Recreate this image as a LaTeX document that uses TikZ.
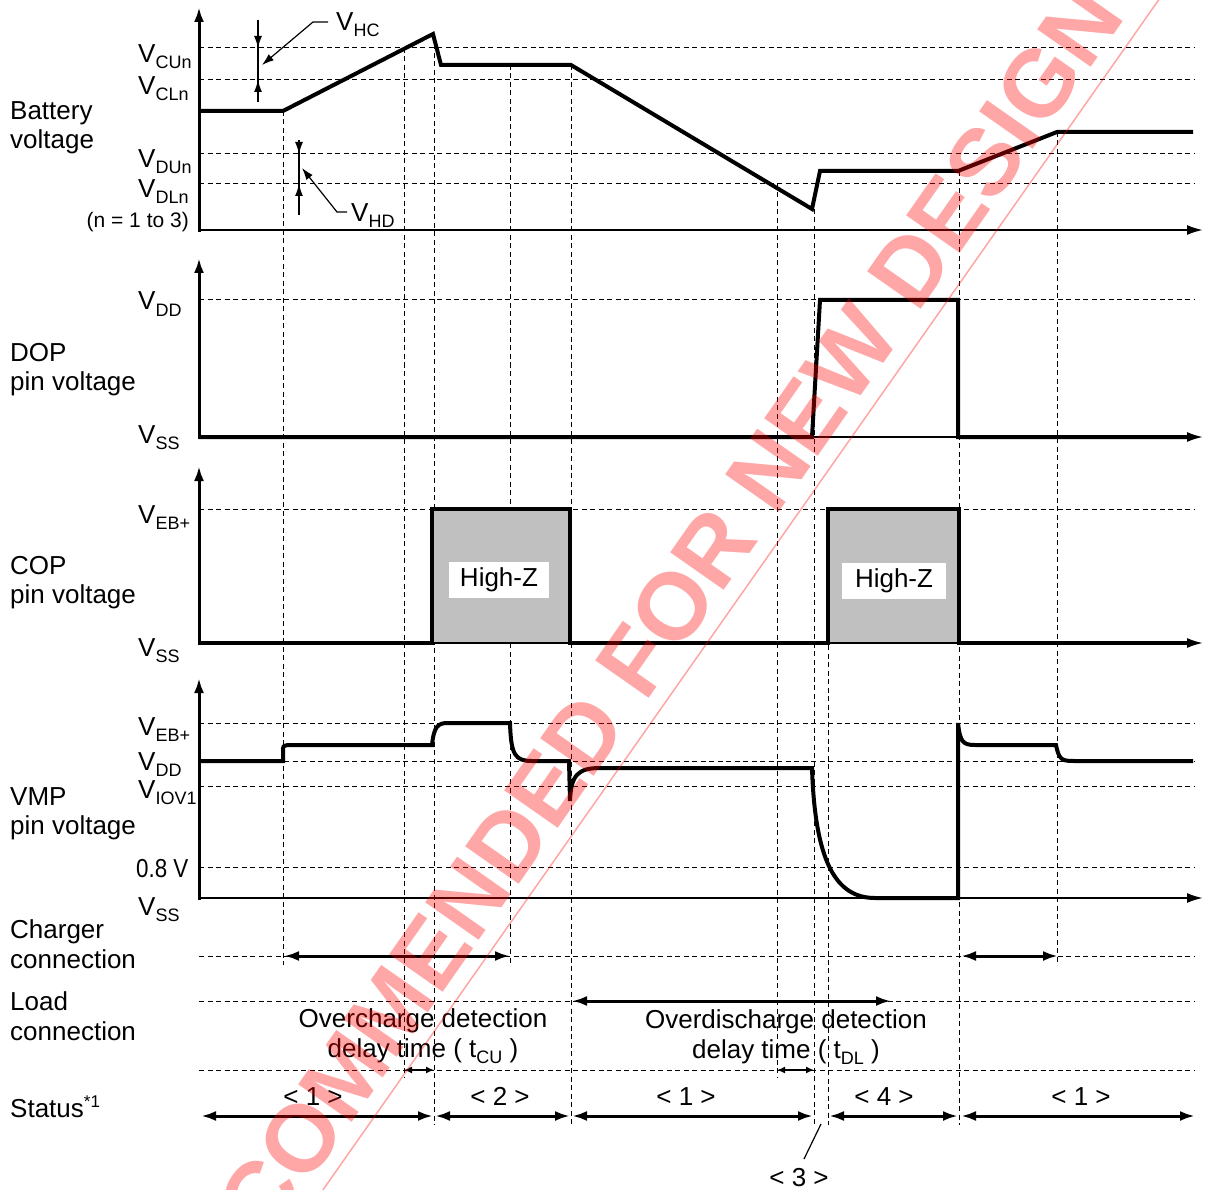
\documentclass[tikz,border=0pt]{standalone}
\usepackage{fontspec}
\setmainfont{Liberation Sans}
\usetikzlibrary{arrows.meta}
\definecolor{hzgray}{RGB}{192,192,192}
\newcommand\lsub[1]{\raisebox{-6pt}{\fontsize{18}{18}\selectfont #1}}
\newcommand\lsup[1]{\raisebox{10pt}{\fontsize{17}{17}\selectfont #1}}
\tikzset{
  sig/.style={line width=4pt},
  yax/.style={line width=3pt, -{Latex[length=15pt,width=10pt]}},
  tax/.style={line width=2pt, -{Latex[length=16pt,width=10pt]}},
  dashln/.style={line width=1pt, dash pattern=on 5pt off 3.5pt},
  darr/.style={line width=3pt, {Latex[length=15pt,width=10pt]}-{Latex[length=15pt,width=10pt]}},
  sarr/.style={line width=2pt, {Latex[length=8pt,width=7pt]}-{Latex[length=8pt,width=7pt]}},
  harr/.style={line width=1.2pt, -{Latex[length=12pt,width=8pt]}},
  lbl/.style={anchor=base west, inner sep=0pt, font=\fontsize{26}{30}\selectfont},
  clbl/.style={anchor=base, inner sep=0pt, font=\fontsize{26}{30}\selectfont},
  wm/.style={inner sep=0pt, text=red, text opacity=0.35, font=\fontsize{95}{95}\selectfont\bfseries, rotate=55},
}
\begin{document}
\begin{tikzpicture}[x=1pt,y=-1pt]
\useasboundingbox (0,0) rectangle (1205,1190);
\clip (0,0) rectangle (1205,1190);

% horizontal dashed reference lines
\foreach \yy in {48,80,154,184,300,509,723,761,786,867,956,1001,1070}
  \draw[dashln] (199,\yy) -- (1195,\yy);

% vertical dashed time markers
\draw[dashln] (283,111) -- (283,965);
\draw[dashln] (404,48) -- (404,1077);
\draw[dashln] (434,36) -- (434,1125);
\draw[dashln] (510,65) -- (510,965);
\draw[dashln] (571,65) -- (571,1125);
\draw[dashln] (777,184) -- (777,1077);
\draw[dashln] (814,209) -- (814,1125);
\draw[dashln] (828,509) -- (828,1125);
\draw[dashln] (959,171) -- (959,1125);
\draw[dashln] (1057,132) -- (1057,965);

% ---------- Battery voltage ----------
\draw[yax] (199,232) -- (199,7);
\draw[tax] (199,230) -- (1203,230);
\draw[sig] (199,111) -- (283,111) -- (433,34) -- (441,65) -- (571,65) -- (812,209)
  -- (820,171) -- (958,171) -- (1057,132) -- (1193,132);
% V_HC marker
\draw[line width=1.2pt] (258,20) -- (258,102);
\draw[harr] (258,20) -- (258,48);
\draw[harr] (258,102) -- (258,80);
\draw[harr] (328,22) -- (313,22) -- (262,65);
% V_HD marker
\draw[line width=1.2pt] (299,140) -- (299,215);
\draw[harr] (299,140) -- (299,154);
\draw[harr] (299,215) -- (299,184);
\draw[harr] (347,212) -- (337,212) -- (302,168);

\node[lbl] (vcun) at (138,63) {V\lsub{CUn}};
\node[lbl] (vcln) at (138,95) {V\lsub{CLn}};
\node[lbl] (vdun) at (138,168) {V\lsub{DUn}};
\node[lbl] (vdln) at (138,198) {V\lsub{DLn}};
\node[anchor=base east, inner sep=0pt, font=\fontsize{21}{24}\selectfont] (nrange) at (189,228) {(n = 1 to 3)};
\node[lbl] (vhc) at (336,31) {V\lsub{HC}};
\node[lbl] (vhd) at (351,222) {V\lsub{HD}};
\node[lbl] (bat1) at (10,120) {Battery};
\node[lbl] (bat2) at (10,149) {voltage};

% ---------- DOP pin voltage ----------
\draw[yax] (199,439) -- (199,258);
\draw[tax] (199,437) -- (1203,437);
\draw[sig] (199,437) -- (812,437) -- (820,300) -- (958,300) -- (958,437) -- (1188,437);
\node[lbl] (dvdd) at (138,310) {V\lsub{DD}};
\node[lbl] (dvss) at (138,443) {V\lsub{SS}};
\node[lbl] (dop1) at (10,362) {DOP};
\node[lbl] (dop2) at (10,390) {pin voltage};

% ---------- COP pin voltage ----------
\fill[hzgray] (432,509) rectangle (570,643);
\fill[hzgray] (828,509) rectangle (959,643);
\draw[yax] (199,645) -- (199,466);
\draw[tax] (199,643) -- (1203,643);
\draw[sig] (199,643) -- (432,643) -- (432,509) -- (570,509) -- (570,643) -- (828,643)
  -- (828,509) -- (959,509) -- (959,643) -- (1188,643);
\node[fill=white, minimum width=100pt, minimum height=36pt, inner sep=0pt, font=\fontsize{26}{30}\selectfont] (hz1) at (499,580) {High-Z};
\node[fill=white, minimum width=104pt, minimum height=36pt, inner sep=0pt, font=\fontsize{26}{30}\selectfont] (hz2) at (894,581) {High-Z};
\node[lbl] (cveb) at (138,523) {V\lsub{EB+}};
\node[lbl] (cvss) at (138,656) {V\lsub{SS}};
\node[lbl] (cop1) at (10,574) {COP};
\node[lbl] (cop2) at (10,603) {pin voltage};

% ---------- VMP pin voltage ----------
\draw[yax] (199,900) -- (199,678);
\draw[tax] (199,898) -- (1203,898);
\draw[sig] (199,761) -- (283,761) -- (283,751) .. controls (283,746) .. (288,745) -- (432,745)
  .. controls (434,726) and (438,723) .. (448,723) -- (510,723)
  .. controls (511,755) and (515,761) .. (532,761) -- (569,761) -- (570,801)
  .. controls (571,775) and (578,768) .. (600,768) -- (812,768)
  .. controls (815,860) and (835,898) .. (875,898) -- (958,898) -- (958,723)
  .. controls (960,742) and (963,745) .. (975,745) -- (1056,745)
  .. controls (1059,760) and (1062,761) .. (1074,761) -- (1193,761);
\node[lbl] (mveb) at (138,735) {V\lsub{EB+}};
\node[lbl] (mvdd) at (138,770) {V\lsub{DD}};
\node[lbl] (mviov) at (138,798) {V\lsub{IOV1}};
\node[lbl] (m08) at (136,877) {\scalebox{0.86}[1]{0.8 V}};
\node[lbl] (mvss) at (138,915) {V\lsub{SS}};
\node[lbl] (vmp1) at (10,805) {VMP};
\node[lbl] (vmp2) at (10,834) {pin voltage};

% ---------- Charger / load connection ----------
\node[lbl] (chg1) at (10,938) {Charger};
\node[lbl] (chg2) at (10,968) {connection};
\node[lbl] (lod1) at (10,1010) {Load};
\node[lbl] (lod2) at (10,1040) {connection};
\draw[darr] (284,956) -- (510,956);
\draw[darr] (961,956) -- (1058,956);
\draw[darr] (572,1001) -- (891,1001);

\node[clbl] (ocd1) at (423,1027) {Overcharge detection};
\node[clbl] (ocd2) at (423,1057) {delay time ( t\lsub{CU} )};
\node[clbl] (odd1) at (786,1028) {Overdischarge detection};
\node[clbl] (odd2) at (786,1058) {delay time ( t\lsub{DL} )};
\draw[sarr] (404,1070) -- (434,1070);
\draw[sarr] (777,1070) -- (814,1070);

% ---------- Status ----------
\node[lbl] (stat) at (10,1117) {Status\lsup{*1}};
\draw[darr] (201,1116) -- (433,1116);
\draw[darr] (435,1116) -- (570,1116);
\draw[darr] (572,1116) -- (813,1116);
\draw[darr] (829,1116) -- (958,1116);
\draw[darr] (961,1116) -- (1195,1116);
\node[clbl] (s1a) at (313,1105) {< 1 >};
\node[clbl] (s2) at (500,1105) {< 2 >};
\node[clbl] (s1b) at (686,1105) {< 1 >};
\node[clbl] (s4) at (884,1105) {< 4 >};
\node[clbl] (s1c) at (1081,1105) {< 1 >};
\node[clbl] (s3) at (799,1186) {< 3 >};
\draw[line width=1.2pt] (821,1124) -- (804,1159);

% ---------- watermark ----------
\node[wm] (wmark) at (567,758) {NOT RECOMMENDED FOR NEW DESIGN};
\draw[red, opacity=0.35, line width=1.5pt] (1160,-2) -- (306,1214);
\end{tikzpicture}
\end{document}
